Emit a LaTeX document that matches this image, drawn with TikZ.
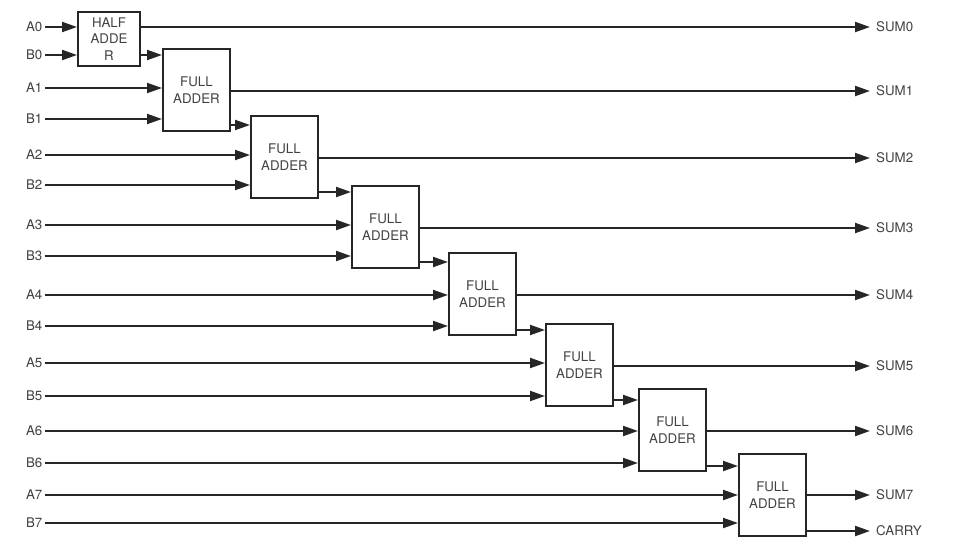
\documentclass[tikz,border=0pt]{standalone}
\usepackage{fontspec}
\setmainfont{TeX Gyre Heros}
\usetikzlibrary{arrows.meta}
\definecolor{wirecol}{HTML}{262626}
\definecolor{textcol}{HTML}{404040}

\begin{document}
\begin{tikzpicture}[x=1pt, y=-1pt,
	wire/.style={draw=wirecol, line width=2pt, -{Triangle[length=15pt,width=10pt]}},
	adder/.style={draw=wirecol, line width=2pt, minimum width=67pt, minimum height=82pt,
		inner sep=0pt, align=center, text=textcol, font=\fontsize{13.3}{16.5}\selectfont},
	inlabel/.style={anchor=east, inner sep=2.5pt, text=textcol, font=\fontsize{13.3}{15}\selectfont},
	outlabel/.style={anchor=west, inner xsep=6pt, inner ysep=2pt, text=textcol, font=\fontsize{13.3}{15}\selectfont}]
	\useasboundingbox (0, 0) rectangle (974, 557);

	% adders
	\node[adder, minimum width=62pt, minimum height=54pt] (fa0) at (109, 39) {HALF\\ADDE\\R};
	\foreach \i/\cx/\cy in {1/196.5/90, 2/284.5/157, 3/385.5/227, 4/482.5/294,
		5/579.5/365, 6/672.5/430, 7/772.5/495}
		\node[adder] (fa\i) at (\cx, \cy) {FULL\\ADDER};

	% inputs
	\foreach \i/\ya/\yb in {0/27/55, 1/88/119, 2/155/185, 3/225/256, 4/295/326,
		5/363/396, 6/431/463, 7/495/523} {
		\node[inlabel] (a\i) at (45, \ya) {A\i};
		\node[inlabel] (b\i) at (45, \yb) {B\i};
		\draw[wire] (a\i.east) -- (a\i.east -| fa\i.west);
		\draw[wire] (b\i.east) -- (b\i.east -| fa\i.west);
	}

	% carries
	\foreach \i/\j/\y in {0/1/55, 1/2/125, 2/3/192, 3/4/262, 4/5/330, 5/6/400, 6/7/466} {
		\coordinate (c\j) at (0, \y);
		\draw[wire] (fa\i.east |- c\j) -- (fa\j.west |- c\j);
	}

	% outputs
	\foreach \i/\y in {0/27, 1/91, 2/158, 3/228, 4/295, 5/366, 6/431, 7/495} {
		\node[outlabel] (s\i) at (870, \y) {SUM\i};
		\draw[wire] (fa\i.east |- s\i.west) -- (s\i.west);
	}
	\node[outlabel] (cout) at (870, 531) {CARRY};
	\draw[wire] (fa7.east |- cout.west) -- (cout.west);
\end{tikzpicture}
\end{document}
